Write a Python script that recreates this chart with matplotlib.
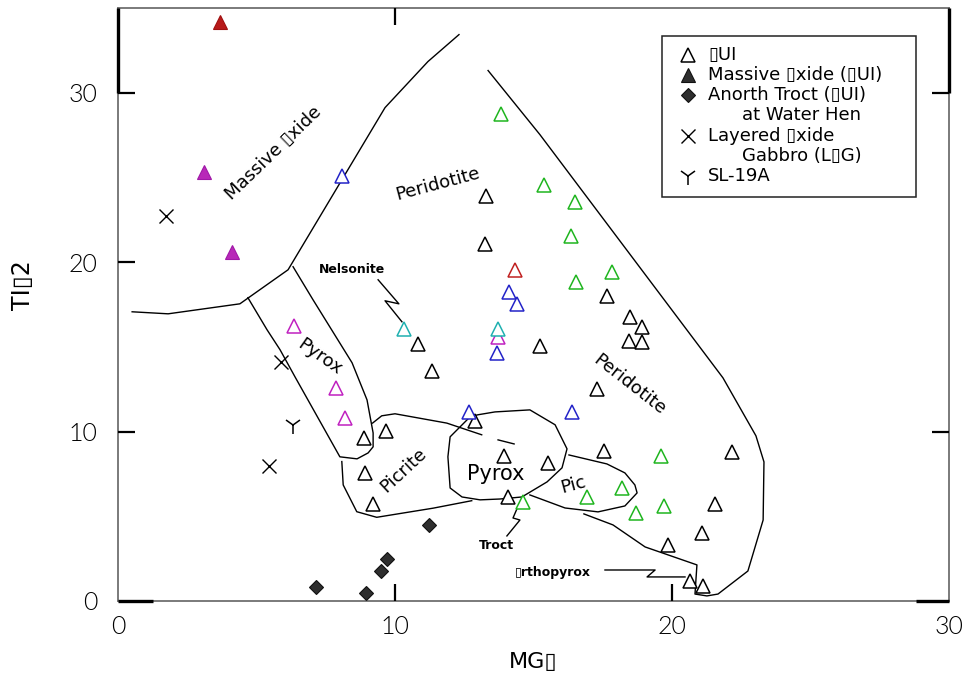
import matplotlib
matplotlib.use("Agg")
import matplotlib.pyplot as plt
from matplotlib.patches import Rectangle
from matplotlib.lines import Line2D

plt.rcParams['font.family'] = ['DejaVu Sans']

BOX = "\u25af"

# ---- sample data (MgO, TiO2) ----
oui_black_x = [10.82, 11.32, 8.87, 9.66, 8.93, 9.22, 12.89, 13.94, 14.09, 15.23, 13.27, 13.25,
               17.67, 18.50, 18.90, 18.46, 18.92, 17.31, 17.55, 22.17, 15.51, 21.54, 21.10,
               19.87, 20.65, 21.13]
oui_black_y = [15.18, 13.59, 9.61, 10.06, 7.54, 5.73, 10.65, 8.58, 6.12, 15.08, 23.88, 21.07,
               18.02, 16.74, 16.20, 15.32, 15.28, 12.50, 8.88, 8.78, 8.17, 5.71, 4.00,
               3.31, 1.20, 0.90]
oui_green_x = [14.61, 13.83, 15.38, 16.51, 16.35, 17.82, 16.53, 19.59, 18.18, 16.93, 18.70, 19.71]
oui_green_y = [5.87, 28.77, 24.53, 23.55, 21.56, 19.39, 18.82, 8.56, 6.69, 6.16, 5.22, 5.63]
oui_blue_x = [8.07, 12.68, 13.67, 14.10, 14.39, 16.38]
oui_blue_y = [25.06, 11.18, 14.63, 18.23, 17.54, 11.18]
oui_magenta_x = [6.37, 7.87, 8.19, 13.73]
oui_magenta_y = [16.24, 12.56, 10.79, 15.57]
oui_cyan_x = [10.32, 13.73]
oui_cyan_y = [16.07, 16.07]
oui_red_x = [14.33]
oui_red_y = [19.55]

massive_red_x = [3.68]
massive_red_y = [34.20]
massive_mag_x = [3.10, 4.10]
massive_mag_y = [25.30, 20.60]

anorth_x = [11.24, 9.70, 9.50, 7.15, 8.94]
anorth_y = [4.49, 2.48, 1.77, 0.81, 0.45]

log_x = [1.73, 5.90, 5.46]
log_y = [22.70, 14.10, 7.97]

sl19a_x = [6.33]
sl19a_y = [10.40]

# ---- field boundaries ----
massive_bnd_x = [0.51, 1.81, 4.40, 6.14, 9.64, 11.19, 12.31]
massive_bnd_y = [17.07, 16.95, 17.54, 19.55, 29.12, 31.84, 33.43]

pyrox_band_x = [4.69, 5.38, 5.85, 6.39, 8.01, 8.63, 9.03, 9.21, 9.21, 8.99, 8.45, 7.04, 6.32]
pyrox_band_y = [17.90, 16.01, 14.83, 13.23, 8.51, 8.39, 8.74, 9.10, 9.92, 11.87, 14.06, 17.78, 19.73]

picrite_low_x = [8.08, 8.13, 8.62, 9.34, 11.38, 12.77]
picrite_low_y = [8.23, 6.85, 5.27, 4.94, 5.48, 5.92]
picrite_top_x = [9.19, 9.52, 10.00, 11.87, 13.13]
picrite_top_y = [10.50, 10.93, 11.05, 10.50, 9.81]
picrite_dash_x = [13.72, 14.30]
picrite_dash_y = [9.51, 9.27]

pyrox_mid_x = [12.71, 11.99, 11.91, 11.99, 12.42, 13.07, 13.79, 14.58, 15.49, 16.03, 16.21,
               15.78, 14.87, 13.61, 12.99, 12.71]
pyrox_mid_y = [10.87, 9.69, 8.51, 6.67, 6.14, 5.97, 6.02, 6.14, 7.03, 7.86, 8.98,
               10.40, 11.28, 11.16, 10.99, 10.87]

pic_x = [16.28, 17.65, 18.30, 18.66, 18.74, 18.30, 17.33, 16.14, 14.87]
pic_y = [8.62, 8.09, 7.56, 6.85, 6.38, 5.61, 5.26, 5.49, 6.26]

perid_x = [13.36, 15.23, 21.84, 23.03, 23.32, 23.29, 22.74, 21.66, 21.26, 20.83, 20.90,
           19.03, 17.87, 16.82]
perid_y = [31.31, 27.53, 13.17, 9.75, 8.21, 4.78, 1.77, 0.41, 0.30, 0.41, 2.13,
           3.19, 4.49, 5.14]

nelsonite_lead_x = [9.39, 10.14, 9.64, 10.25]
nelsonite_lead_y = [18.96, 17.54, 17.72, 16.48]
troct_lead_x = [14.40, 14.26, 14.51, 14.04]
troct_lead_y = [5.43, 4.90, 4.78, 3.84]
ortho_lead_x = [17.58, 19.39, 19.10, 20.47]
ortho_lead_y = [1.83, 1.83, 1.42, 1.42]

ticks = [0, 10, 20, 30]
tick_labels = ["0", "10", "20", "30"]

fig = plt.figure(figsize=(9.67, 6.85), dpi=100)
ax = fig.add_axes([118 / 967, 84 / 685, 831 / 967, 593 / 685])
ax.set_xlim(0, 30)
ax.set_ylim(0, 35)

# boundaries
line_kw = dict(color="black", lw=1.0, zorder=2)
for xs, ys in [(massive_bnd_x, massive_bnd_y), (pyrox_band_x, pyrox_band_y),
               (picrite_low_x, picrite_low_y), (picrite_top_x, picrite_top_y),
               (picrite_dash_x, picrite_dash_y), (pyrox_mid_x, pyrox_mid_y),
               (pic_x, pic_y), (perid_x, perid_y),
               (nelsonite_lead_x, nelsonite_lead_y), (troct_lead_x, troct_lead_y),
               (ortho_lead_x, ortho_lead_y)]:
    ax.plot(xs, ys, **line_kw)

# open triangles
tri_kw = dict(marker="^", ls="none", ms=9.5, mew=1.1, mfc="white", zorder=4)
for xs, ys, c in [(oui_black_x, oui_black_y, "black"),
                  (oui_green_x, oui_green_y, "#1fb51f"),
                  (oui_blue_x, oui_blue_y, "#2323c8"),
                  (oui_magenta_x, oui_magenta_y, "#c021c0"),
                  (oui_cyan_x, oui_cyan_y, "#1fb0b0"),
                  (oui_red_x, oui_red_y, "#c02020")]:
    ax.plot(xs, ys, mec=c, **tri_kw)

ax.plot(massive_red_x, massive_red_y, marker="^", ls="none", ms=10, mfc="#b81a1a",
        mec="#a01010", mew=0.8, zorder=4)
ax.plot(massive_mag_x, massive_mag_y, marker="^", ls="none", ms=10, mfc="#b828b8",
        mec="#a018a8", mew=0.8, zorder=4)
ax.plot(anorth_x, anorth_y, marker="D", ls="none", ms=7, mfc="#2e2e2e", mec="#111111",
        mew=0.8, zorder=4)
ax.plot(log_x, log_y, marker="x", ls="none", ms=10, mew=1.0, color="black", zorder=4)
ax.plot(sl19a_x, sl19a_y, marker="1", ls="none", ms=13, mew=1.1, color="black", zorder=4)

# field names
lab = dict(fontsize=13, color="black", ha="center", va="center", zorder=5)
ax.text(5.60, 26.46, "Massive " + BOX + "xide", rotation=44, **lab)
ax.text(11.55, 24.63, "Peridotite", rotation=15, **lab)
ax.text(7.29, 14.41, "Pyrox", rotation=-35, **lab)
ax.text(10.29, 7.74, "Picrite", rotation=43, **lab)
ax.text(16.43, 6.85, "Pic", rotation=15, **lab)
ax.text(18.48, 12.76, "Peridotite", rotation=-38, **lab)
ax.text(13.65, 7.50, "Pyrox", fontsize=15, ha="center", va="center", zorder=5)
small = dict(fontsize=9, fontweight="bold", ha="center", va="center", zorder=5)
ax.text(8.45, 19.55, "Nelsonite", **small)
ax.text(13.68, 3.25, "Troct", **small)
ax.text(15.70, 1.71, BOX + "rthopyrox", **small)

# frame
for s in ax.spines.values():
    s.set_color("#707070")
    s.set_linewidth(1.3)
thick = dict(color="black", lw=2.4, clip_on=False, solid_capstyle="butt", zorder=6)
ax.plot([0, 0], [30, 35], **thick)
ax.plot([30, 30], [30, 35], **thick)
ax.plot([0, 1.27], [0, 0], **thick)
ax.plot([28.8, 30], [0, 0], **thick)
tk = dict(color="black", lw=1.6, clip_on=False, solid_capstyle="butt", zorder=6)
for yv in [10, 20, 30]:
    ax.plot([0, 0.62], [yv, yv], **tk)
for yv in [10, 30]:
    ax.plot([29.38, 30], [yv, yv], **tk)
for xv in [10, 20]:
    ax.plot([xv, xv], [0, 1.0], **tk)
ax.plot([10, 10], [35, 34.0], **tk)

ax.set_xticks(ticks)
ax.set_xticklabels(tick_labels)
ax.set_yticks(ticks)
ax.set_yticklabels(tick_labels)
ax.tick_params(length=0, labelsize=18, colors="black")
ax.tick_params(axis="y", pad=15)
ax.tick_params(axis="x", pad=10)
for t in ax.get_xticklabels() + ax.get_yticklabels():
    t.set_family("Lato")
    t.set_fontweight(300)

fig.text(533 / 967, 1 - 662 / 685, "MG" + BOX, fontsize=16, ha="center", va="center")
fig.text(23 / 967, 1 - 285 / 685, "TI" + BOX + "2", fontsize=17, rotation=90,
         ha="center", va="center")

# legend
lx0, lx1, ly0, ly1 = 0.6546, 0.9603, 0.6813, 0.9528
ax.add_patch(Rectangle((lx0, ly0), lx1 - lx0, ly1 - ly0, transform=ax.transAxes,
                       facecolor="white", edgecolor="#222222", lw=1.1, zorder=7))
mx, tx, cx = 0.686, 0.710, 0.751
rows = [0.9207, 0.8870, 0.8533, 0.8196, 0.7841, 0.7504, 0.7167]
lt = dict(transform=ax.transAxes, fontsize=13, ha="left", va="center", zorder=8)
mk = dict(transform=ax.transAxes, ls="none", zorder=8, clip_on=False)
ax.add_line(Line2D([mx], [rows[0]], marker="^", ms=9.5, mfc="white", mec="black", mew=1.1, **mk))
ax.text(tx, rows[0], BOX + "UI", **lt)
ax.add_line(Line2D([mx], [rows[1]], marker="^", ms=10, mfc="#2e2e2e", mec="#111111", mew=0.8, **mk))
ax.text(tx, rows[1], "Massive " + BOX + "xide (" + BOX + "UI)", **lt)
ax.add_line(Line2D([mx], [rows[2]], marker="D", ms=7, mfc="#2e2e2e", mec="#111111", mew=0.8, **mk))
ax.text(tx, rows[2], "Anorth Troct (" + BOX + "UI)", **lt)
ax.text(cx, rows[3], "at Water Hen", **lt)
ax.add_line(Line2D([mx], [rows[4]], marker="x", ms=10, mew=1.0, color="black", **mk))
ax.text(tx, rows[4], "Layered " + BOX + "xide", **lt)
ax.text(cx, rows[5], "Gabbro (L" + BOX + "G)", **lt)
ax.add_line(Line2D([mx], [rows[6]], marker="1", ms=13, mew=1.1, color="black", **mk))
ax.text(tx, rows[6], "SL-19A", **lt)

fig.savefig("out.png", dpi=100)
